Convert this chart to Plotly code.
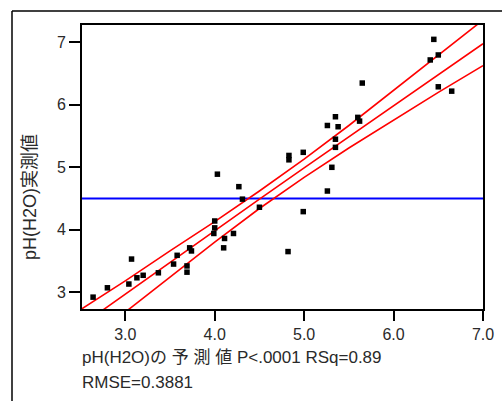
import plotly.graph_objects as go

# ---- data ----
pred = [2.64, 2.80, 3.04, 3.07, 3.13, 3.20, 3.37, 3.54, 3.58, 3.69, 3.69, 3.72, 3.74,
        3.99, 4.00, 4.00, 4.03, 4.10, 4.11, 4.21, 4.27, 4.31, 4.50, 4.82, 4.83, 4.83,
        4.99, 4.99, 5.26, 5.26, 5.31, 5.35, 5.35, 5.35, 5.38, 5.60, 5.62, 5.65, 6.41,
        6.45, 6.50, 6.50, 6.65]
actual = [2.92, 3.07, 3.13, 3.53, 3.23, 3.27, 3.31, 3.45, 3.59, 3.42, 3.32, 3.71, 3.66,
          3.94, 4.03, 4.14, 4.89, 3.71, 3.86, 3.94, 4.69, 4.49, 4.36, 3.65, 5.12, 5.19,
          4.29, 5.24, 4.62, 5.67, 5.00, 5.32, 5.45, 5.81, 5.65, 5.80, 5.74, 6.35, 6.72,
          7.05, 6.80, 6.29, 6.22]

band_x = [2.5, 3.0, 3.5, 4.0, 4.5, 5.0, 5.5, 6.0, 6.5, 7.0]
fit_y = [2.46, 2.97, 3.47, 3.98, 4.49, 4.99, 5.49, 5.99, 6.49, 6.98]
upper_y = [2.72, 3.18, 3.66, 4.13, 4.62, 5.13, 5.67, 6.23, 6.80, 7.36]
lower_y = [2.12, 2.68, 3.24, 3.80, 4.34, 4.84, 5.31, 5.76, 6.20, 6.63]
mean_y = [4.5]

x_range = [2.516, 7.0]
y_range = [2.73, 7.28]
x_major = [3, 4, 5, 6, 7]
y_major = [3, 4, 5, 6, 7]
minor_step = 0.25

x_title = "pH(H2O)の 予 測 値 P<.0001 RSq=0.89"
x_title2 = "RMSE=0.3881"
y_title = "pH(H2O)実測値"

FONT = "Liberation Sans, Arial, Noto Sans CJK JP, sans-serif"
TXT = "#2a2a2a"

L, T, R, B = 82, 25, 19, 92
W, H = 502, 401
pw, ph = W - L - R, H - T - B
dx = (x_range[1] - x_range[0]) / pw   # data units per pixel
dy = (y_range[1] - y_range[0]) / ph


def minor_vals(rng, majors):
    out = []
    v = majors[0] - minor_step * int((majors[0] - rng[0]) / minor_step)
    while v <= rng[1] + 1e-9:
        if v >= rng[0] and all(abs(v - m) > 1e-9 for m in majors):
            out.append(round(v, 4))
        v += minor_step
    return out


x_minor = minor_vals(x_range, x_major)
y_minor = minor_vals(y_range, y_major)

fig = go.Figure()
fig.add_trace(go.Scatter(x=x_range, y=[mean_y[0], mean_y[0]], mode="lines",
                         line=dict(color="#0000ff", width=2.2),
                         hoverinfo="skip", showlegend=False))
for yy in (upper_y, fit_y, lower_y):
    fig.add_trace(go.Scatter(x=band_x, y=yy, mode="lines",
                             line=dict(color="#ff0000", width=1.6),
                             hoverinfo="skip", showlegend=False))
fig.add_trace(go.Scatter(x=pred, y=actual, mode="markers",
                         marker=dict(symbol="square", size=5.5, color="black",
                                     line=dict(width=0)),
                         showlegend=False))

# tick marks drawn as line markers just outside the axes (from the tick lists)
def tick_trace(xs, ys, symbol, length):
    return go.Scatter(x=xs, y=ys, mode="markers", cliponaxis=False,
                      hoverinfo="skip", showlegend=False,
                      marker=dict(symbol=symbol, size=length, color="black",
                                  line=dict(color="black", width=2)))

fig.add_trace(tick_trace(x_major, [y_range[0] - 6 * dy] * len(x_major), "line-ns-open", 10))
fig.add_trace(tick_trace(x_minor, [y_range[0] - 3.5 * dy] * len(x_minor), "line-ns-open", 5))
fig.add_trace(tick_trace([x_range[0] - 6.5 * dx] * len(y_major), y_major, "line-ew-open", 11))
fig.add_trace(tick_trace([x_range[0] - 3.5 * dx] * len(y_minor), y_minor, "line-ew-open", 5))

fig.update_xaxes(range=x_range, showline=True, linewidth=2, linecolor="#000000",
                 mirror=True, tickvals=x_major, tickformat=".1f", automargin=False,
                 ticks="outside", ticklen=10, tickwidth=2, tickcolor="#000000",
                 showgrid=False, zeroline=False)
fig.update_yaxes(range=y_range, showline=True, linewidth=2, linecolor="#000000",
                 mirror=True, tickvals=y_major, automargin=False,
                 ticks="outside", ticklen=11, tickwidth=2, tickcolor="#000000",
                 showgrid=False, zeroline=False)

fx = (12 - L) / pw
fy = 1 + (T - 11) / ph
fig.update_layout(
    width=W, height=H,
    margin=dict(l=L, r=R, t=T, b=B),
    plot_bgcolor="white",
    font=dict(family=FONT, size=16, color=TXT),
    shapes=[
        dict(type="line", xref="paper", yref="paper", x0=fx, x1=1.5, y0=fy, y1=fy,
             line=dict(color="black", width=1.5)),
        dict(type="line", xref="paper", yref="paper", x0=fx, x1=fx, y0=fy, y1=-1.0,
             line=dict(color="black", width=1.5)),
    ],
    annotations=[
        dict(text=x_title, xref="paper", yref="paper", x=0, y=(309 - 357) / ph,
             xanchor="left", yanchor="middle", showarrow=False, xshift=-2,
             font=dict(family=FONT, size=17, color=TXT)),
        dict(text=x_title2, xref="paper", yref="paper", x=0, y=(309 - 382) / ph,
             xanchor="left", yanchor="middle", showarrow=False, xshift=-2,
             font=dict(family=FONT, size=17, color=TXT)),
        dict(text=y_title, xref="paper", yref="paper", x=(30 - L) / pw,
             y=(309 - 197) / ph, xanchor="center", yanchor="middle",
             textangle=-90, showarrow=False,
             font=dict(family=FONT, size=18, color=TXT)),
    ],
)

fig.write_html("out.html")
